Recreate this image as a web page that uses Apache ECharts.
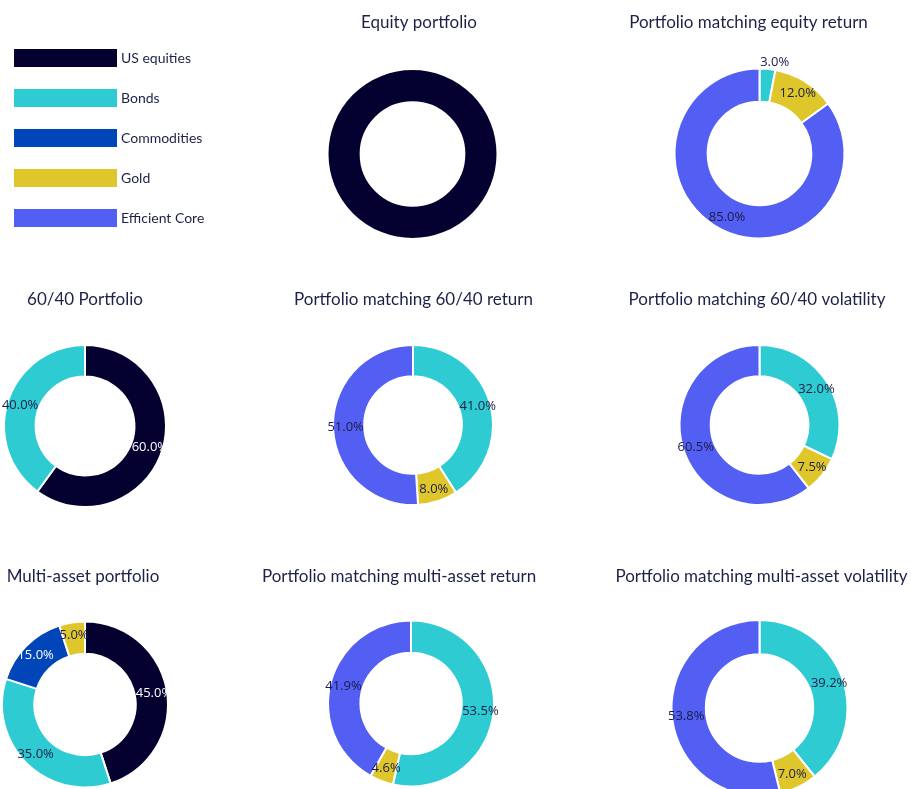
<!DOCTYPE html>
<html>
<head>
<meta charset="utf-8">
<script src="https://cdn.jsdelivr.net/npm/echarts@6/dist/echarts.min.js"></script>
<style>
html,body{margin:0;padding:0;background:#fff;}
#chart{width:911px;height:789px;}
</style>
</head>
<body>
<div id="chart"></div>
<script>
// ---- data ----
const assets = ['US equities', 'Bonds', 'Commodities', 'Gold', 'Efficient Core'];
const chartTitles = [
  'Equity portfolio',
  'Portfolio matching equity return',
  '60/40 Portfolio',
  'Portfolio matching 60/40 return',
  'Portfolio matching 60/40 volatility',
  'Multi-asset portfolio',
  'Portfolio matching multi-asset return',
  'Portfolio matching multi-asset volatility'
];
const equityPortfolio   = [100, 0, 0, 0, 0];
const equityReturnMatch = [0, 3.0, 0, 12.0, 85.0];
const portfolio6040     = [60, 40, 0, 0, 0];
const return6040Match   = [0, 41.0, 0, 8.0, 51.0];
const vol6040Match      = [0, 32.0, 0, 7.5, 60.5];
const multiAsset        = [45, 35, 15, 5, 0];
const multiReturnMatch  = [0, 53.5, 0, 4.6, 41.9];
const multiVolMatch     = [0, 39.2, 0, 7.0, 53.8];
const chartValues = [equityPortfolio, equityReturnMatch, portfolio6040, return6040Match,
                     vol6040Match, multiAsset, multiReturnMatch, multiVolMatch];

// ---- styles / layout ----
const assetColors = ['#04002f', '#2ecbd2', '#0046b9', '#dec62b', '#525ff2'];
const lightText = '#ffffff';
const darkText = '#1a1d45';
const labelColors = [lightText, darkText, lightText, darkText, darkText];
const layout = [
  {c: [412.5, 154], r: 85, t: [419, 14]},
  {c: [759.5, 153.5], r: 85, t: [748.5, 14]},
  {c: [85, 426], r: 81, t: [85, 291]},
  {c: [413, 425], r: 80, t: [413.5, 291]},
  {c: [759.5, 425], r: 80, t: [757, 291]},
  {c: [85, 704.5], r: 83, t: [83, 568]},
  {c: [411, 703.5], r: 83, t: [399, 568]},
  {c: [759.5, 708], r: 88, t: [761.5, 568]}
];
const holeRatio = 0.61;
const font = 'Lato';

const titles = chartTitles.map((txt, i) => ({
  text: txt,
  left: layout[i].t[0],
  top: layout[i].t[1],
  textAlign: 'center',
  padding: 0,
  textStyle: {fontFamily: font, fontSize: 17, fontWeight: 'normal', color: '#1e2147'}
}));

const series = chartValues.map((vals, i) => {
  const data = [];
  vals.forEach((v, k) => {
    if (v > 0) {
      const item = {
        name: assets[k],
        value: v,
        itemStyle: {color: assetColors[k]},
        label: {color: labelColors[k]}
      };
      if (v < 4) {
        item.label.position = 'outside';
        item.label.color = darkText;
        item.label.distanceToLabelLine = -8;
        item.labelLine = {show: false, length: 7, length2: 0};
      }
      data.push(item);
    }
  });
  return {
    type: 'pie',
    center: layout[i].c,
    radius: [layout[i].r * holeRatio, layout[i].r],
    startAngle: 90,
    clockwise: true,
    avoidLabelOverlap: false,
    animation: false,
    itemStyle: {borderColor: '#ffffff', borderWidth: 2},
    label: {
      show: i !== 0,
      position: 'inside',
      fontFamily: 'Open Sans',
      fontSize: 13,
      formatter: p => p.value.toFixed(1) + '%'
    },
    labelLine: {show: false},
    emphasis: {disabled: true},
    data: data
  };
});

const chart = echarts.init(document.getElementById('chart'));
chart.setOption({
  backgroundColor: '#ffffff',
  title: titles,
  legend: {
    data: assets,
    orient: 'vertical',
    left: 12,
    top: 47,
    padding: 0,
    itemWidth: 105,
    itemHeight: 20,
    itemGap: 18,
    icon: 'rect',
    textStyle: {fontFamily: font, fontSize: 14, color: '#1e2147', padding: [0, 0, 0, -2]}
  },
  series: series
});
</script>
</body>
</html>
